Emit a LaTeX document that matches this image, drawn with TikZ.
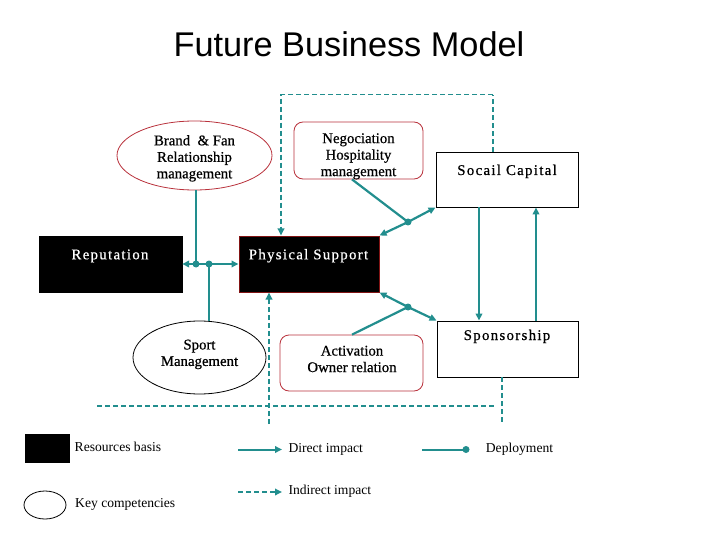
\documentclass[tikz,border=0pt]{standalone}
\usepackage{fontspec}
\setmainfont{Liberation Serif}
\newfontfamily\titlefont{Liberation Sans}
\usetikzlibrary{arrows.meta,shapes.geometric}
\definecolor{teal1}{RGB}{34,142,142}
\definecolor{redline}{RGB}{185,50,60}
\definecolor{darkred}{RGB}{130,20,20}
\begin{document}
\begin{tikzpicture}[x=1pt,y=-1pt,
  txt/.style={font=\fontsize{14.8}{16.5}\selectfont\addfontfeature{FakeBold=0.6}, inner sep=0, align=center},
  sptxt/.style={inner sep=0, font=\fontsize{14.8}{16.5}\selectfont\addfontfeature{LetterSpace=9,FakeBold=0.6}},
  leg/.style={font=\fontsize{13.6}{16}\selectfont, inner sep=0, anchor=base west},
  comp/.style={ellipse, draw=black, line width=0.8pt, inner sep=0},
  redell/.style={ellipse, draw=redline, line width=0.8pt, inner sep=0},
  rbox/.style={rectangle, rounded corners=9pt, draw=redline, line width=0.8pt, inner sep=0},
  wbox/.style={rectangle, draw=black, line width=0.9pt, inner sep=0},
  bbox/.style={rectangle, draw=black, fill=black, inner sep=0},
  tip/.style={-{Triangle[length=7pt,width=6.5pt]}},
  direct/.style={teal1, line width=2.2pt, tip},
  indirect/.style={teal1, line width=1.7pt, dash pattern=on 5pt off 3pt, tip},
  thinind/.style={teal1, line width=1.1pt, dash pattern=on 5pt off 3pt},
  link/.style={teal1, line width=2.2pt},
  jdot/.style={circle, fill=teal1, inner sep=0, minimum size=7pt}
]
\useasboundingbox[fill=white] (0,0) rectangle (720,540);

% title
\node[font=\titlefont\fontsize{34.3}{38}\selectfont, inner sep=0, anchor=base] (title) at (349,57) {Future Business Model};

% resource boxes
\node[bbox, minimum width=143pt, minimum height=56pt] (rep) at (110.5,264) {};
\node[sptxt, text=white, anchor=base] (repT) at (110,259.3) {Reputation};
\node[bbox, draw=darkred, line width=1pt, minimum width=140pt, minimum height=56pt] (ps) at (309,264) {};
\node[sptxt, text=white, anchor=base] (psT) at (308.5,259.3) {Physical Support};

% competencies
\node[redell, minimum width=155pt, minimum height=69pt] (bf) at (194.5,155.5) {};
\node[txt] (bfT) at (194.5,158.3) {Brand \ \& Fan\\Relationship\\management};
\node[rbox, minimum width=129pt, minimum height=57pt] (neg) at (358.5,150.5) {};
\node[txt] (negT) at (358.5,156.3) {Negociation\\Hospitality\\management};
\node[comp, minimum width=133pt, minimum height=73pt] (sm) at (199.5,357.5) {};
\node[txt] (smT) at (199.5,354.4) {Sport\\Management};
\node[rbox, minimum width=143pt, minimum height=56pt] (act) at (351.5,363) {};
\node[txt] (actT) at (352,359) {Activation\\Owner relation};

% white boxes
\node[wbox, minimum width=142pt, minimum height=55pt] (sc) at (507,179.5) {};
\node[sptxt, anchor=base] (scT) at (507,175) {Socail Capital};
\node[wbox, minimum width=141pt, minimum height=56pt] (sp) at (507.5,349) {};
\node[sptxt, anchor=base] (spT) at (507,340) {Sponsorship};

% junctions
\coordinate (j1) at (196,264);
\coordinate (j2) at (209,264);
\coordinate (j3) at (408,222);
\coordinate (j4) at (408,307);

% dashed (indirect) connectors
\draw[thinind] ([xshift=-14pt]sc.north) -- ++(0,-57) coordinate (t1);
\draw[indirect] (t1) -| ([xshift=-28pt]ps.north);
\coordinate (b1) at (269,424);
\draw[indirect] (b1) -- ([xshift=-40pt]ps.south);
\coordinate (h1) at (97,406);
\coordinate (h2) at (495,406);
\draw[thinind] (h1) -- (h2);
\coordinate (b2) at (502,424);
\draw[thinind] ([xshift=-5.5pt]sp.south) -- (b2);

% direct connectors
\draw[link] (bf.south -| j1) -- (j1);
\draw[link] (j1) -- (j2);
\draw[direct] (j1) -- (rep);
\draw[direct] (j2) -- (ps);
\draw[link] (sm.north -| j2) -- (j2);
\draw[link] ([xshift=-6.5pt]neg.south) -- (j3);
\draw[direct] (j3) -- (ps.north east);
\draw[direct] (j3) -- (sc.south west);
\draw[link] ([xshift=0.5pt]act.north) -- (j4);
\draw[direct] (j4) -- (ps.south east);
\draw[direct] (j4) -- (sp.north west);
\draw[direct] ([xshift=-28pt]sc.south) -- ([xshift=-28.5pt]sp.north);
\draw[direct] ([xshift=28.5pt]sp.north) -- ([xshift=29pt]sc.south);
\foreach \j in {j1,j2,j3,j4} \node[jdot] at (\j) {};

% legend
\node[bbox, minimum width=44pt, minimum height=28.5pt] (lres) at (47,448.4) {};
\node[leg] (lresT) at (74.5,451.7) {Resources basis};
\node[comp, minimum width=42pt, minimum height=28pt] (lkey) at (45,505) {};
\node[leg] (lkeyT) at (75,507.5) {Key competencies};
\coordinate (ld1) at (238,449.5);
\coordinate (ld2) at (282,449.5);
\draw[direct, line width=2pt] (ld1) -- (ld2);
\node[leg] (ldT) at (288.3,452) {Direct impact};
\coordinate (li1) at (238,492);
\coordinate (li2) at (282,492);
\draw[indirect] (li1) -- (li2);
\node[leg] (liT) at (288.3,494) {Indirect impact};
\coordinate (lp1) at (422,449.5);
\coordinate (lp2) at (466,449.5);
\draw[link, line width=2pt] (lp1) -- (lp2);
\node[jdot] (lpd) at (lp2) {};
\node[leg] (lpT) at (485.7,452) {Deployment};
\end{tikzpicture}
\end{document}
